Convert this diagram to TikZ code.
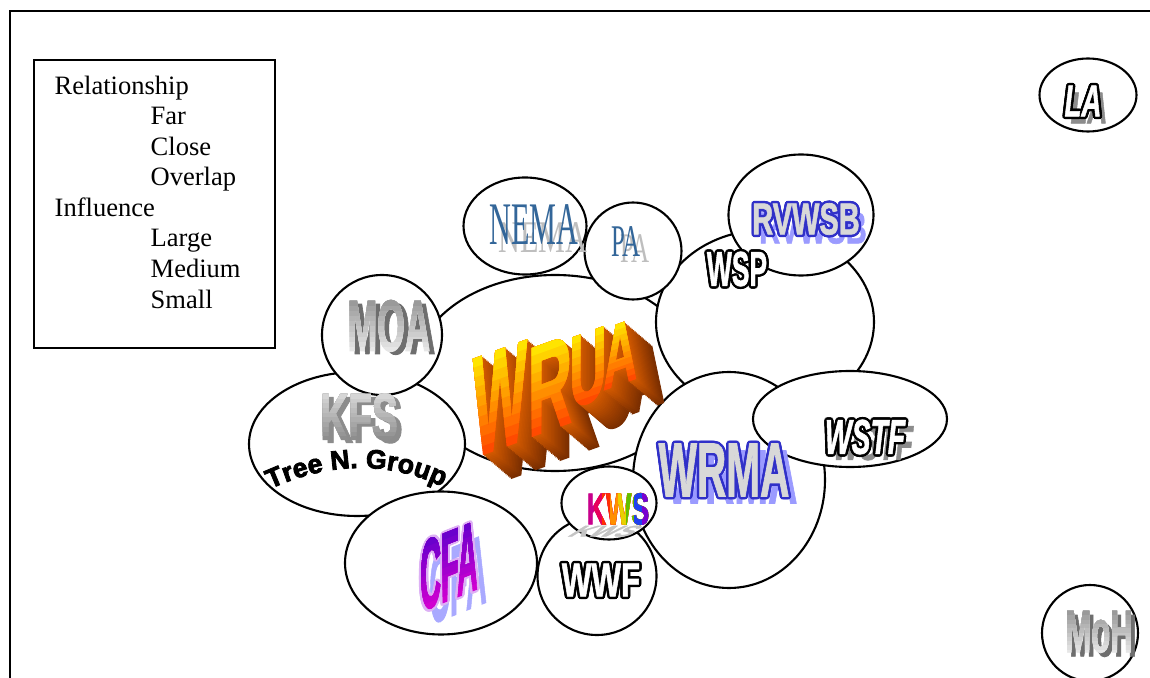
\documentclass[tikz,border=0pt]{standalone}
\usepackage{fontspec}
\setmainfont{Liberation Serif}
\newfontfamily\heavyfont{Liberation Sans}[FakeBold=1.5]
\newfontfamily\blackfont{Liberation Sans}[FakeBold=3]
\usetikzlibrary{shapes.geometric,positioning,decorations.text}

\definecolor{wruatop}{HTML}{FFE400}
\definecolor{wruabottom}{HTML}{FF4A00}
\definecolor{wruafar}{HTML}{7A2E00}
\definecolor{wruanear}{HTML}{D45A00}
\definecolor{nemablue}{HTML}{336699}
\definecolor{paleshade}{HTML}{BEBEBE}
\definecolor{darkshade}{HTML}{8C8C8C}
\definecolor{lilac}{HTML}{9B9BFF}
\definecolor{rimblue}{HTML}{3030C8}
\definecolor{facegray}{HTML}{D8D8D8}
\definecolor{cfatop}{HTML}{6A00CC}
\definecolor{cfabottom}{HTML}{D000D0}
\definecolor{cfashade}{HTML}{A9A9FF}
\definecolor{cfarim}{HTML}{DDB0F5}
\definecolor{metaltop}{HTML}{9A9A9A}
\definecolor{metalbottom}{HTML}{E6E6E6}
\definecolor{metalshade}{HTML}{6E6E6E}
\definecolor{kfstop}{HTML}{D6D6D6}
\definecolor{kfsbottom}{HTML}{8E8E8E}
\definecolor{kwsshade}{HTML}{C4C4C4}
\definecolor{kws1}{HTML}{C8008C}
\definecolor{kws2}{HTML}{E8005A}
\definecolor{kws3}{HTML}{FF3000}
\definecolor{kws4}{HTML}{FF9000}
\definecolor{kws5}{HTML}{E8D000}
\definecolor{kws6}{HTML}{60C000}
\definecolor{kws7}{HTML}{2040F0}
\definecolor{kws8}{HTML}{7A00D0}

% word art letters: size (pt), horizontal squeeze, text
\newcommand{\art}[3]{\scalebox{#2}[1]{\heavyfont\bfseries\fontsize{#1}{#1}\selectfont #3}}
\newcommand{\artslant}[3]{\scalebox{#2}[1]{\heavyfont\bfseries\itshape\fontsize{#1}{#1}\selectfont #3}}
\newcommand{\serifart}[4]{\scalebox{#2}[#3]{\fontsize{#1}{#1}\selectfont #4}}
\newcommand{\treefont}{\blackfont\bfseries\fontsize{7.6}{7.6}\selectfont}

\tikzset{
  blob/.style={draw, ellipse, fill=white, line width=0.6pt, inner sep=0pt},
  wordart/.style={inner sep=0pt}
}

% name, half height, top colour, bottom colour, text
\newcommand{\fadeword}[5]{%
  \node[wordart, text=#4] (#1) at (0,0) {#5};
  \foreach \k in {1,...,9}{
    \pgfmathtruncatemacro\mix{\k*100/9}
    \begin{scope}
      \clip (-300,-300) rectangle (300,{#2-\k*#2/5});
      \node[wordart, text=#3!\mix!#4] (#1-\k) at (0,0) {#5};
    \end{scope}}}

% name, rim colour, face colour, text
\newcommand{\rimword}[4]{%
  \foreach \ang in {0,30,...,330}
    \node[wordart, text=#2, shift={(\ang:0.7pt)}] (#1-\ang) at (0,0) {#4};
  \node[wordart, text=#3] (#1) at (0,0) {#4};}

\begin{document}
\begin{tikzpicture}[x=0.1mm, y=-0.1mm]
  \useasboundingbox (0,0) rectangle (1150,678);
  \clip (0,0) rectangle (1150,678);
  \draw[line width=0.6pt] (10,11) rectangle (1200,720);

  % key
  \node[draw, line width=0.6pt, anchor=north west, inner sep=0pt,
    minimum width=24.1mm, minimum height=28.8mm] (legend) at (33,59) {};
  \node[anchor=north west, inner sep=0pt, align=left,
    font={\fontsize{7.55}{8.7}\selectfont}] (key) at ([shift={(21,16)}]legend.north west)
    {Relationship\\\hspace*{9.6mm}Far\\\hspace*{9.6mm}Close\\\hspace*{9.6mm}Overlap\\
     Influence\\\hspace*{9.6mm}Large\\\hspace*{9.6mm}Medium\\\hspace*{9.6mm}Small};

  % bubbles, back to front
  \node[blob, minimum width=28mm, minimum height=19.6mm] (wrua) at (555,373) {};
  \node[blob, minimum width=21.6mm, minimum height=14.4mm] (kfs) at (357,444) {};
  \node[blob, minimum width=12mm, minimum height=12mm] (moa) at (382,335) {};
  \node[blob, minimum width=19.2mm, minimum height=14.3mm] (cfa) at (441,563) {};
  \node[blob, minimum width=21.8mm, minimum height=18.4mm] (wsp) at (765,322) {};
  \node[blob, minimum width=9.7mm, minimum height=9.7mm] (pa) at (633,251) {};
  \node[blob, minimum width=12.3mm, minimum height=9.7mm] (nema) at (525,226) {};
  \node[blob, minimum width=14.5mm, minimum height=12.1mm] (rvwsb) at (801,215) {};
  \node[blob, minimum width=19.2mm, minimum height=21.6mm] (wrma) at (729,480) {};
  \node[blob, minimum width=11.9mm, minimum height=11.8mm] (wwf) at (597,576) {};
  \node[blob, minimum width=9.5mm, minimum height=7.3mm] (kws) at (609,503) {};
  \node[blob, minimum width=19.4mm, minimum height=9.6mm] (wstf) at (850,419) {};
  \node[blob, minimum width=9.7mm, minimum height=7.3mm] (la) at (1088,95) {};
  \node[blob, minimum width=9.6mm, minimum height=9.6mm] (moh) at (1090,633) {};

  % NEMA and PA
  \node[wordart, text=paleshade] (nema-shade) at (543,238) {\serifart{17.2}{0.5}{0.75}{NEMA}};
  \node[wordart, text=nemablue] (nema-word) at (534,225) {\serifart{17.2}{0.5}{1}{NEMA}};
  \node[wordart, text=paleshade] (pa-shade) at (635,249) {\serifart{12.9}{0.55}{0.93}{PA}};
  \node[wordart, text=nemablue] (pa-word) at (626,242) {\serifart{12.9}{0.55}{1}{PA}};

  % WRUA, depth first
  \foreach \ch/\cx/\cy/\sz/\hs in {W/500/399/40.5/0.40, R/550/386/36.1/0.48,
      U/588/368/29/0.50, A/620/354/25/0.535}{
    \begin{scope}[shift={(\cx,\cy)}, yslant=0.36, transform shape]
      \foreach \d in {20,19,...,1}{
        \pgfmathtruncatemacro\mix{\d*5}
        \node[wordart, text=wruafar!\mix!wruanear, shift={({1.4*\d},{1.7*\d})}]
          (wrua-\ch-\d) at (0,0) {\art{\sz}{\hs}{\ch}};}
    \end{scope}}
  \foreach \ch/\cx/\cy/\sz/\hs/\hh in {W/500/399/40.5/0.40/51, R/550/386/36.1/0.48/45.5,
      U/588/368/29/0.50/36.5, A/620/354/25/0.535/31.5}{
    \begin{scope}[shift={(\cx,\cy)}, yslant=0.36, transform shape]
      \fadeword{wrua-\ch}{\hh}{wruatop}{wruabottom}{\art{\sz}{\hs}{\ch}}
    \end{scope}}

  % MOA, KFS, MoH
  \begin{scope}[shift={(389,326)}]
    \node[wordart, text=metalshade, shift={(5,3)}] (moa-shade) at (0,0) {\art{20.6}{0.49}{MOA}};
    \fadeword{moa-word}{26}{metaltop}{metalbottom}{\art{20.6}{0.49}{MOA}}
  \end{scope}
  \begin{scope}[shift={(359,417)}]
    \node[wordart, text=darkshade, shift={(5,3)}] (kfs-shade) at (0,0) {\art{18.7}{0.59}{KFS}};
    \fadeword{kfs-word}{23.5}{kfstop}{kfsbottom}{\art{18.7}{0.59}{KFS}}
  \end{scope}
  \begin{scope}[shift={(1099,632)}]
    \node[wordart, text=metalshade, shift={(4,4)}] (moh-shade) at (0,0) {\art{17}{0.52}{MoH}};
    \fadeword{moh-word}{21.5}{metaltop}{metalbottom}{\art{17}{0.52}{MoH}}
  \end{scope}
  \path[decorate, decoration={text along path, text align=center,
      text={|\treefont|Tree N. Group}}]
    (268,490) .. controls (330,461) and (390,461) .. (445,488);

  % CFA
  \begin{scope}[shift={(449,566)}, yslant=0.4, transform shape]
    \node[wordart, text=cfashade, shift={(9,17)}] (cfa-shade) at (0,0) {\art{28.2}{0.29}{CFA}};
    \rimword{cfa-rim}{cfarim}{cfarim}{\art{28.2}{0.29}{CFA}}
    \fadeword{cfa-word}{35.5}{cfatop}{cfabottom}{\art{28.2}{0.29}{CFA}}
  \end{scope}

  % WWF and KWS
  \begin{scope}[shift={(601,580)}]
    \rimword{wwf-word}{black}{white}{\art{13.5}{0.66}{WWF}}
  \end{scope}
  \begin{scope}[shift={(616,525)}, xslant=1.6, transform shape]
    \node[wordart, anchor=north, text=kwsshade] (kws-shade) at (0,0)
      {\scalebox{1}[0.35]{\art{12.7}{0.6}{KWS}}};
  \end{scope}
  \begin{scope}[shift={(618,509)}]
    \node[wordart, text=kws1] (kws-word) at (0,0) {\art{12.7}{0.6}{KWS}};
    \foreach \c [count=\i from 2] in {kws2,kws3,kws4,kws5,kws6,kws7,kws8}{
      \begin{scope}
        \clip ({-40+\i*8},-60) rectangle (60,60);
        \node[wordart, text=\c] (kws-word-\i) at (0,0) {\art{12.7}{0.6}{KWS}};
      \end{scope}}
  \end{scope}

  % WSP, RVWSB, WRMA, WSTF, LA
  \begin{scope}[shift={(737,269)}]
    \rimword{wsp-word}{black}{white}{\art{13.9}{0.54}{WSP}}
  \end{scope}
  \begin{scope}[shift={(806,219)}]
    \node[wordart, text=lilac, shift={(7,9)}] (rvwsb-shade) at (0,0) {\art{12.7}{0.65}{RVWSB}};
    \rimword{rvwsb-word}{rimblue}{facegray}{\art{12.7}{0.65}{RVWSB}}
  \end{scope}
  \begin{scope}[shift={(724,470)}]
    \node[wordart, text=lilac, shift={(8,7)}] (wrma-shade) at (0,0) {\art{21.8}{0.53}{WRMA}};
    \rimword{wrma-word}{rimblue}{facegray}{\art{21.8}{0.53}{WRMA}}
  \end{scope}
  \begin{scope}[shift={(865,437)}]
    \node[wordart, text=darkshade, shift={(8,6)}] (wstf-shade) at (0,0) {\artslant{13.9}{0.58}{WSTF}};
    \rimword{wstf-word}{black}{white}{\artslant{13.9}{0.58}{WSTF}}
  \end{scope}
  \begin{scope}[shift={(1083,101)}]
    \node[wordart, text=darkshade, shift={(6,7)}] (la-shade) at (0,0) {\artslant{12.7}{0.62}{LA}};
    \rimword{la-word}{black}{white}{\artslant{12.7}{0.62}{LA}}
  \end{scope}
\end{tikzpicture}
\end{document}
